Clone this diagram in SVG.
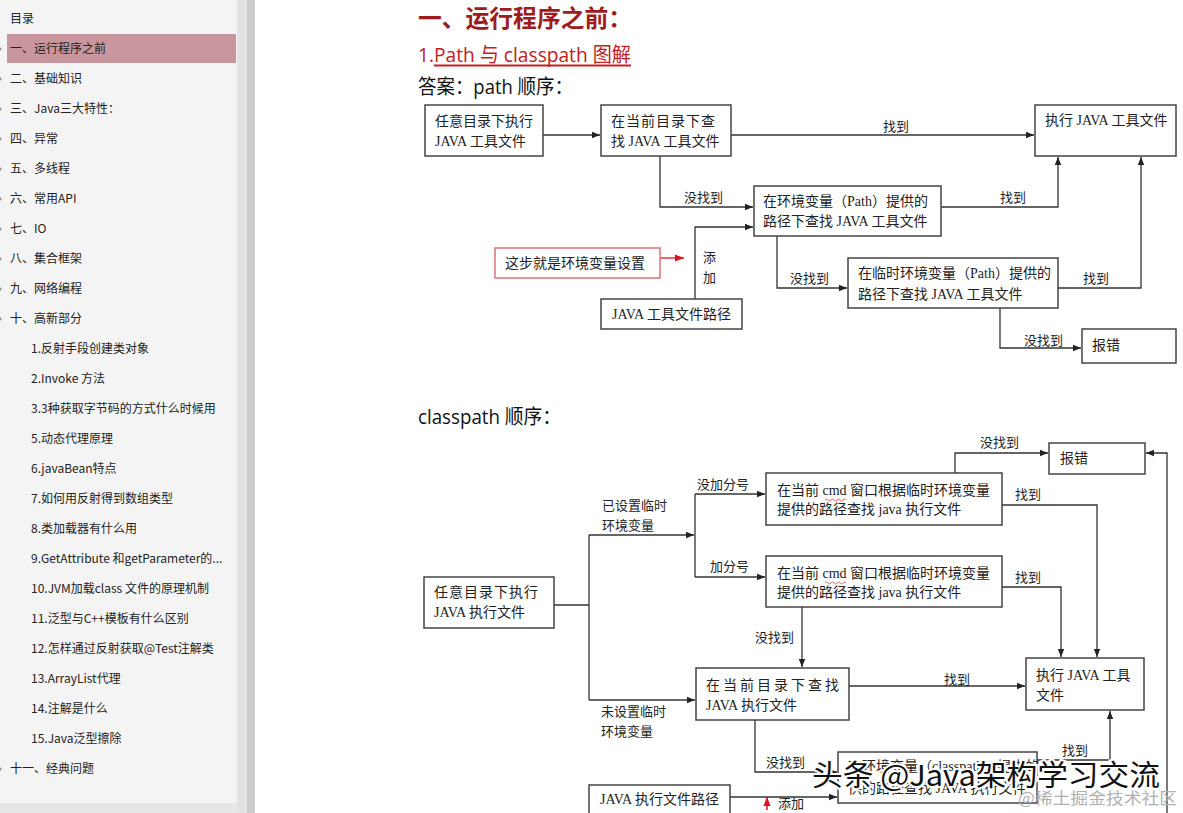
<svg xmlns="http://www.w3.org/2000/svg" width="1183" height="813" viewBox="0 0 1183 813">
<defs>
<marker id="ah" viewBox="0 0 10 10" refX="10" refY="5" markerWidth="8" markerHeight="8" markerUnits="userSpaceOnUse" orient="auto"><path d="M0,1 L10,5 L0,9 Z" fill="#222"/></marker>
<marker id="ahr" viewBox="0 0 10 10" refX="10" refY="5" markerWidth="9" markerHeight="9" markerUnits="userSpaceOnUse" orient="auto"><path d="M0,1 L10,5 L0,9 Z" fill="#e01020"/></marker>
<style>
.side{font-family:"Noto Sans CJK SC","Liberation Sans",sans-serif;font-size:12px;fill:#222}
.box{fill:#fff;stroke:#444;stroke-width:1.5}
.bt{font-family:"Liberation Serif","Noto Sans CJK SC",serif;font-size:14px;fill:#222}
.lb{font-family:"Liberation Serif","Noto Sans CJK SC",serif;font-size:13px;fill:#222}
.cn path{fill:none;stroke:#333;stroke-width:1.3}
.h{font-family:"Open Sans","Noto Sans CJK SC",sans-serif}
</style>
</defs>
<rect x="0" y="0" width="1183" height="813" fill="#fff"/>
<g id="sidebar">
<rect x="0" y="0" width="237" height="803" fill="#f4f4f4"/>
<rect x="0" y="803" width="237" height="10" fill="#e6e6e6"/>
<rect x="237" y="0" width="10" height="813" fill="#e2e2e2"/>
<rect x="247" y="0" width="8" height="813" fill="#cbcbcb"/>
<rect x="7" y="34" width="229" height="29" fill="#c9969d"/>
<text class="side" x="10" y="23">目录</text>
<g fill="#999"><path d="M0,47 l2,2 l-2,2z"/><path d="M0,77 l2,2 l-2,2z"/><path d="M0,107 l2,2 l-2,2z"/><path d="M0,137 l2,2 l-2,2z"/><path d="M0,167 l2,2 l-2,2z"/><path d="M0,197 l2,2 l-2,2z"/><path d="M0,227 l2,2 l-2,2z"/><path d="M0,257 l2,2 l-2,2z"/><path d="M0,287 l2,2 l-2,2z"/><path d="M0,317 l2,2 l-2,2z"/><path d="M0,767 l2,2 l-2,2z"/></g>
<text class="side" x="10" y="53">一、运行程序之前</text>
<text class="side" x="10" y="83">二、基础知识</text>
<text class="side" x="10" y="113">三、Java三大特性：</text>
<text class="side" x="10" y="143">四、异常</text>
<text class="side" x="10" y="173">五、多线程</text>
<text class="side" x="10" y="203">六、常用API</text>
<text class="side" x="10" y="233">七、IO</text>
<text class="side" x="10" y="263">八、集合框架</text>
<text class="side" x="10" y="293">九、网络编程</text>
<text class="side" x="10" y="323">十、高新部分</text>
<text class="side" x="31" y="353">1.反射手段创建类对象</text>
<text class="side" x="31" y="383">2.Invoke 方法</text>
<text class="side" x="31" y="413">3.3种获取字节码的方式什么时候用</text>
<text class="side" x="31" y="443">5.动态代理原理</text>
<text class="side" x="31" y="473">6.javaBean特点</text>
<text class="side" x="31" y="503">7.如何用反射得到数组类型</text>
<text class="side" x="31" y="533">8.类加载器有什么用</text>
<text class="side" x="31" y="563">9.GetAttribute 和getParameter的...</text>
<text class="side" x="31" y="593">10.JVM加载class 文件的原理机制</text>
<text class="side" x="31" y="623">11.泛型与C++模板有什么区别</text>
<text class="side" x="31" y="653">12.怎样通过反射获取@Test注解类</text>
<text class="side" x="31" y="683">13.ArrayList代理</text>
<text class="side" x="31" y="713">14.注解是什么</text>
<text class="side" x="31" y="743">15.Java泛型擦除</text>
<text class="side" x="10" y="773">十一、经典问题</text>
</g>
<g id="headings">
<text class="h" x="418" y="27" font-size="24" font-weight="bold" fill="#9e1c1c" textLength="214" lengthAdjust="spacingAndGlyphs">一、运行程序之前：</text>
<text class="h" x="418" y="62" font-size="20" fill="#c42020" textLength="213" lengthAdjust="spacingAndGlyphs">1.Path 与 classpath 图解</text>
<line x1="434" y1="65.5" x2="631" y2="65.5" stroke="#c42020" stroke-width="2"/>
<text class="h" x="418" y="94" font-size="20" fill="#111" textLength="155" lengthAdjust="spacingAndGlyphs">答案：path 顺序：</text>
<text class="h" x="418" y="424" font-size="20" fill="#111" textLength="143" lengthAdjust="spacingAndGlyphs">classpath 顺序：</text>
</g>
<g id="connectors" class="cn">
<path d="M543,135 H600" marker-end="url(#ah)"/>
<path d="M731,135 H1034" marker-end="url(#ah)"/>
<path d="M660,156 V207 H753" marker-end="url(#ah)"/>
<path d="M695,299 V227 H753" marker-end="url(#ah)"/>
<path d="M941,207 H1058 V157" marker-end="url(#ah)"/>
<path d="M777,236 V288 H847" marker-end="url(#ah)"/>
<path d="M1058,288 H1141 V157" marker-end="url(#ah)"/>
<path d="M1000,308 V348 H1081" marker-end="url(#ah)"/>
<path d="M660,258 H684" style="stroke:#e01020" marker-end="url(#ahr)"/>
<path d="M554,605 H589"/>
<path d="M589,535 V700"/>
<path d="M589,535 H694" marker-end="url(#ah)"/>
<path d="M589,700 H695" marker-end="url(#ah)"/>
<path d="M695,494 V577"/>
<path d="M695,494 H765" marker-end="url(#ah)"/>
<path d="M695,577 H765" marker-end="url(#ah)"/>
<path d="M955,473 V453 H1048" marker-end="url(#ah)"/>
<path d="M1002,505 H1097 V657" marker-end="url(#ah)"/>
<path d="M1002,587 H1061 V657" marker-end="url(#ah)"/>
<path d="M802,607 V667" marker-end="url(#ah)"/>
<path d="M849,686 H1025" marker-end="url(#ah)"/>
<path d="M755,720 V772 H837" marker-end="url(#ah)"/>
<path d="M1037,760 H1110 V711" marker-end="url(#ah)"/>
<path d="M1167,813 V453 H1146" marker-end="url(#ah)"/>
<path d="M730,797 H837" marker-end="url(#ah)"/>
<path d="M767,810 V797" style="stroke:#e01020;stroke-width:1.5" marker-end="url(#ahr)"/>
</g>
<g id="labels">
<text class="lb" x="883" y="131">找到</text>
<text class="lb" x="684" y="202">没找到</text>
<text class="lb" x="1000" y="202">找到</text>
<text class="lb" x="703" y="262">添</text>
<text class="lb" x="703" y="282">加</text>
<text class="lb" x="790" y="283">没找到</text>
<text class="lb" x="1083" y="283">找到</text>
<text class="lb" x="1024" y="345">没找到</text>
<text class="lb" x="602" y="510">已设置临时</text>
<text class="lb" x="602" y="530">环境变量</text>
<text class="lb" x="697" y="489">没加分号</text>
<text class="lb" x="710" y="571">加分号</text>
<text class="lb" x="980" y="447">没找到</text>
<text class="lb" x="1015" y="499">找到</text>
<text class="lb" x="1015" y="582">找到</text>
<text class="lb" x="755" y="642">没找到</text>
<text class="lb" x="601" y="716">未设置临时</text>
<text class="lb" x="601" y="736">环境变量</text>
<text class="lb" x="944" y="684">找到</text>
<text class="lb" x="766" y="767">没找到</text>
<text class="lb" x="1062" y="755">找到</text>
<text class="lb" x="778" y="808">添加</text>
</g>
<g id="nA"><rect class="box" x="425" y="105" width="118" height="51"/><text class="bt" x="435" y="126">任意目录下执行</text><text class="bt" x="435" y="146">JAVA 工具文件</text></g>
<g id="nB"><rect class="box" x="601" y="105" width="130" height="51"/><text class="bt" x="611" y="126" letter-spacing="1">在当前目录下查</text><text class="bt" x="611" y="146">找 JAVA 工具文件</text></g>
<g id="nC"><rect class="box" x="1035" y="105" width="141" height="51"/><text class="bt" x="1045" y="125">执行 JAVA 工具文件</text></g>
<g id="nD"><rect class="box" x="754" y="186" width="187" height="50"/><text class="bt" x="763" y="206">在环境变量（Path）提供的</text><text class="bt" x="763" y="226">路径下查找 JAVA 工具文件</text></g>
<g id="nE"><rect class="box" x="848" y="258" width="210" height="50"/><text class="bt" x="858" y="278">在临时环境变量（Path）提供的</text><text class="bt" x="858" y="299">路径下查找 JAVA 工具文件</text></g>
<g id="nF"><rect class="box" x="1082" y="329" width="94" height="34"/><text class="bt" x="1092" y="350">报错</text></g>
<g id="nG"><rect x="495" y="248" width="165" height="30" fill="#fff" stroke="#e0707c" stroke-width="1.5"/><text x="505" y="268" font-family="Noto Sans CJK SC,sans-serif" font-size="14" fill="#222">这步就是环境变量设置</text></g>
<g id="nH"><rect class="box" x="601" y="299" width="141" height="30"/><text class="bt" x="612" y="319">JAVA 工具文件路径</text></g>
<g id="nI"><rect class="box" x="424" y="577" width="130" height="51"/><text class="bt" x="434" y="597" font-size="15" letter-spacing="1">任意目录下执行</text><text class="bt" x="434" y="617" font-size="15">JAVA 执行文件</text></g>
<g id="nJ"><rect class="box" x="766" y="473" width="236" height="52"/><text class="bt" x="777" y="495">在当前  cmd  窗口根据临时环境变量</text><text class="bt" x="777" y="514">提供的路径查找 java 执行文件</text><path d="M825,500 q1.5,-2 3,0 t3,0 t3,0 t3,0 t3,0 t3,0 t3,0" fill="none" stroke="#e04040" stroke-width="0.8"/></g>
<g id="nK"><rect class="box" x="766" y="556" width="236" height="51"/><text class="bt" x="777" y="578">在当前  cmd  窗口根据临时环境变量</text><text class="bt" x="777" y="597">提供的路径查找 java 执行文件</text><path d="M825,583 q1.5,-2 3,0 t3,0 t3,0 t3,0 t3,0 t3,0 t3,0" fill="none" stroke="#e04040" stroke-width="0.8"/></g>
<g id="nL"><rect class="box" x="1049" y="443" width="96" height="31"/><text class="bt" x="1060" y="463">报错</text></g>
<g id="nM"><rect class="box" x="1026" y="658" width="118" height="52"/><text class="bt" x="1036" y="680">执行  JAVA 工具</text><text class="bt" x="1036" y="700">文件</text></g>
<g id="nN"><rect class="box" x="696" y="668" width="153" height="52"/><text class="bt" x="706" y="690" letter-spacing="3">在当前目录下查找</text><text class="bt" x="706" y="710">JAVA 执行文件</text></g>
<g id="nO"><rect class="box" x="838" y="752" width="199" height="51"/><text class="bt" x="848" y="771" fill="#555">在环境变量（classpath）提供的</text><text class="bt" x="848" y="793">供的路径查找 JAVA 执行文件</text></g>
<g id="nP"><rect class="box" x="589" y="785" width="141" height="30"/><text class="bt" x="600" y="804">JAVA 执行文件路径</text></g>
<g id="watermark">
<text x="812" y="786" font-family="Noto Sans CJK SC,sans-serif" font-size="29" fill="#111" stroke="#fff" stroke-width="4" paint-order="stroke" textLength="348" lengthAdjust="spacingAndGlyphs">头条 @Java架构学习交流</text>
<text x="1018" y="804" font-family="Noto Sans CJK SC,sans-serif" font-size="16" fill="#b0b0b0" textLength="159" lengthAdjust="spacingAndGlyphs">@稀土掘金技术社区</text>
</g>
</svg>
